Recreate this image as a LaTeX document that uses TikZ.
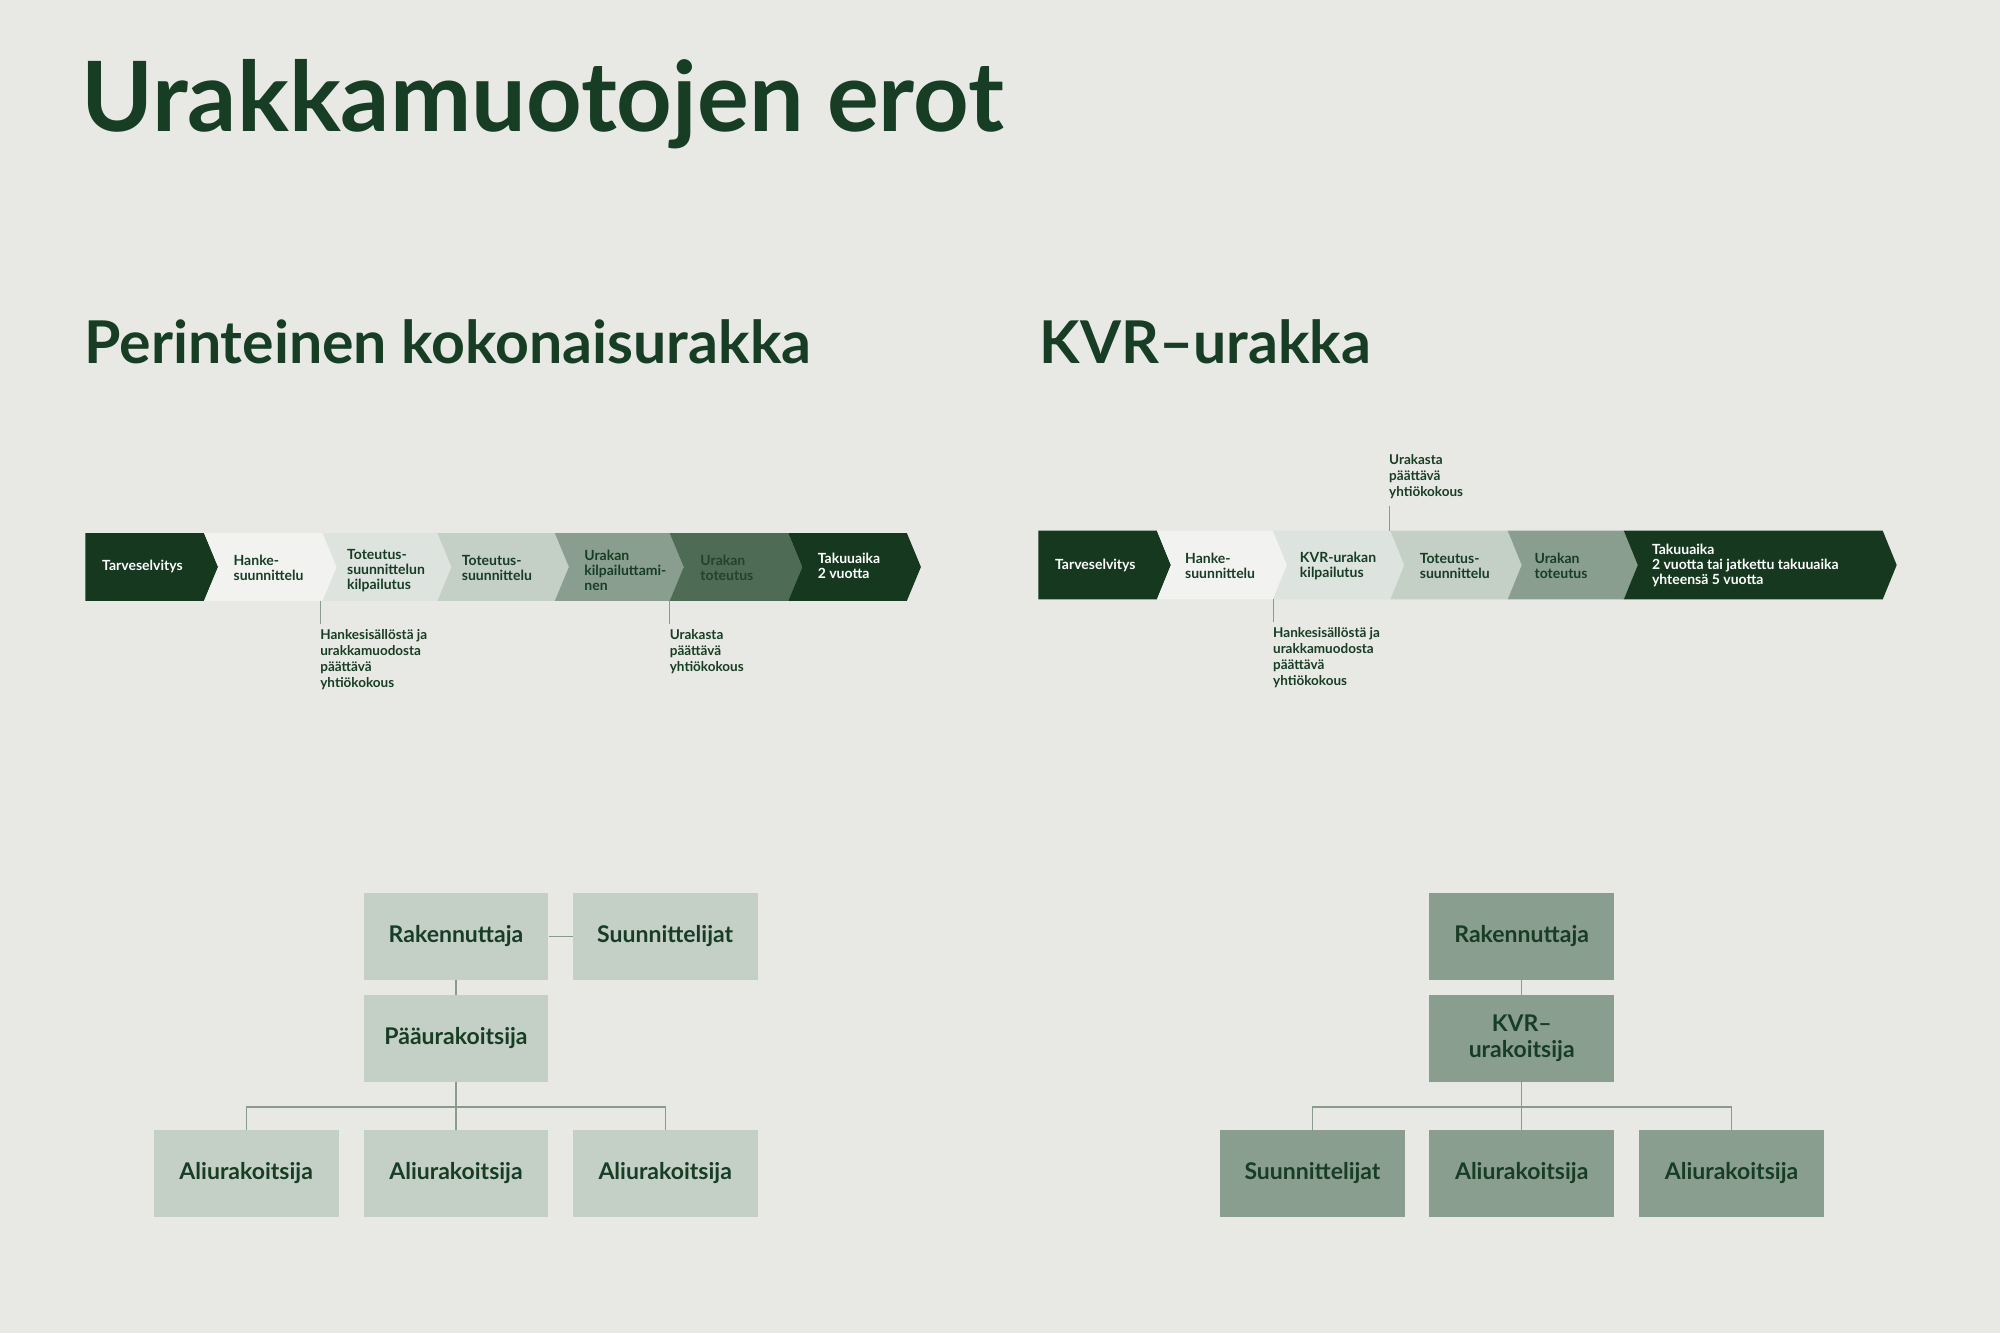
\documentclass[tikz,border=0pt]{standalone}
\usepackage{fontspec}
\setmainfont{Lato}
\definecolor{bg}{HTML}{E8E9E4}
\definecolor{dk}{HTML}{15381F}
\definecolor{tx}{HTML}{173D24}
\definecolor{c1}{HTML}{F2F3F1}
\definecolor{c2}{HTML}{DDE3DE}
\definecolor{c3}{HTML}{C4CFC6}
\definecolor{c4}{HTML}{8A9E8F}
\definecolor{c5}{HTML}{4D6B55}
\definecolor{ln}{HTML}{8A9A8F}
\definecolor{tx5}{HTML}{23432C}
\newcommand\mychev[5]{% x0 x1 top bot color
  \fill[#5] (#1,#3) -- (#2,#3) -- (#2+11,{(#3+#4)/2}) -- (#2,#4) -- (#1,#4) -- (#1+11,{(#3+#4)/2}) -- cycle;}
\begin{document}
\begin{tikzpicture}[x=1.2755pt,y=-1.2755pt,
  ct/.style={anchor=west,align=left,font=\bfseries\fontsize{14}{15}\selectfont,text=tx,inner sep=0},
  cw/.style={ct,text=white},
  note/.style={anchor=north west,align=left,font=\bfseries\fontsize{13.5}{16}\selectfont,text=tx,inner sep=0},
  box/.style={minimum width=145*1.2755pt,minimum height=68*1.2755pt,inner sep=0,font=\bfseries\fontsize{23}{26}\selectfont,text=tx,align=center},
  lb/.style={box,fill=c3},
  db/.style={box,fill=c4},
  ed/.style={draw=ln,line width=1.3pt}]
\fill[bg] (0,0) rectangle (1568,1045.1);
\useasboundingbox (0,0) rectangle (1568,1045.1);
\node[anchor=base west,inner sep=0,text=tx,font=\bfseries\fontsize{97}{100}\selectfont] (t) at (64,103) {Urakkamuotojen erot};
\node[anchor=base west,inner sep=0,text=tx,font=\bfseries\fontsize{59}{64}\selectfont] (s1) at (66,285) {Perinteinen kokonaisurakka};
\node[anchor=base west,inner sep=0,text=tx,font=\bfseries\fontsize{59}{64}\selectfont] (s2) at (815,285) {KVR–urakka};
% left bar
\fill[dk] (67,418) -- (160,418) -- (171,444.5) -- (160,471) -- (67,471) -- cycle;
\mychev{160}{253}{418}{471}{c1}
\mychev{253}{343}{418}{471}{c2}
\mychev{343}{435}{418}{471}{c3}
\mychev{435}{525}{418}{471}{c4}
\mychev{525}{618}{418}{471}{c5}
\mychev{618}{711}{418}{471}{dk}
\node[cw] (l1) at (80,444.5) {Tarveselvitys};
\node[ct] (l2) at (183,445.5) {Hanke-\\suunnittelu};
\node[ct] (l3) at (272,447) {Toteutus-\\suunnittelun\\kilpailutus};
\node[ct] (l4) at (362,445.5) {Toteutus-\\suunnittelu};
\node[ct] (l5) at (458,447) {Urakan\\kilpailuttami-\\nen};
\node[ct,text=tx5] (l6) at (549,445.5) {Urakan\\toteutus};
\node[cw] (l7) at (641,443.5) {Takuuaika\\2 vuotta};
\coordinate (a1) at (251,471); \coordinate (a2) at (525,471);
\node[note] (n1) at (251,493) {Hankesisällöstä ja\\urakkamuodosta\\päättävä\\yhtiökokous};
\node[note] (n2) at (525,493) {Urakasta\\päättävä\\yhtiökokous};
\draw[ln,line width=0.8pt] (a1) -- (251,489); \draw[ln,line width=0.8pt] (a2) -- (525,489);
% right bar
\fill[dk] (814,416) -- (907,416) -- (918,443) -- (907,470) -- (814,470) -- cycle;
\mychev{907}{998}{416}{470}{c1}
\mychev{998}{1090}{416}{470}{c2}
\mychev{1090}{1182}{416}{470}{c3}
\mychev{1182}{1273}{416}{470}{c4}
\mychev{1273}{1476}{416}{470}{dk}
\node[cw] (r1) at (827,443) {Tarveselvitys};
\node[ct] (r2) at (929,444) {Hanke-\\suunnittelu};
\node[ct] (r3) at (1019,444) {KVR-urakan\\kilpailutus};
\node[ct] (r4) at (1113,444) {Toteutus-\\suunnittelu};
\node[ct] (r5) at (1203,444) {Urakan\\toteutus};
\node[cw] (r6) at (1295,443) {Takuuaika\\2 vuotta tai jatkettu takuuaika\\yhteensä 5 vuotta};
\node[note] (n3) at (998,492) {Hankesisällöstä ja\\urakkamuodosta\\päättävä\\yhtiökokous};
\node[note,anchor=south west] (n4) at (1089,391) {Urakasta\\päättävä\\yhtiökokous};
\draw[ln,line width=0.8pt] (998,470) -- (998,488);
\draw[ln,line width=0.8pt] (1089,397) -- (1089,416);
% left org
\node[lb] (rak) at (357.5,734) {Rakennuttaja};
\node[lb] (suu) at (521.5,734) {Suunnittelijat};
\node[lb] (paa) at (357.5,814) {Pääurakoitsija};
\node[lb] (al1) at (193,920) {Aliurakoitsija};
\node[lb] (al2) at (357.5,920) {Aliurakoitsija};
\node[lb] (al3) at (521.5,920) {Aliurakoitsija};
\draw[ed] (rak) -- (suu); \draw[ed] (rak) -- (paa);
\draw[ed] (paa.south) -- (al2.north);
\draw[ed] (al1.north) -- ++(0,-18) -| (al3.north);
% right org
\node[db] (rak2) at (1193,734) {Rakennuttaja};
\node[db] (kvr) at (1193,814) {KVR–\\urakoitsija};
\node[db] (su2) at (1029,920) {Suunnittelijat};
\node[db] (al4) at (1193,920) {Aliurakoitsija};
\node[db] (al5) at (1357.5,920) {Aliurakoitsija};
\draw[ed] (rak2) -- (kvr); \draw[ed] (kvr.south) -- (al4.north);
\draw[ed] (su2.north) -- ++(0,-18) -| (al5.north);
\end{tikzpicture}
\end{document}
